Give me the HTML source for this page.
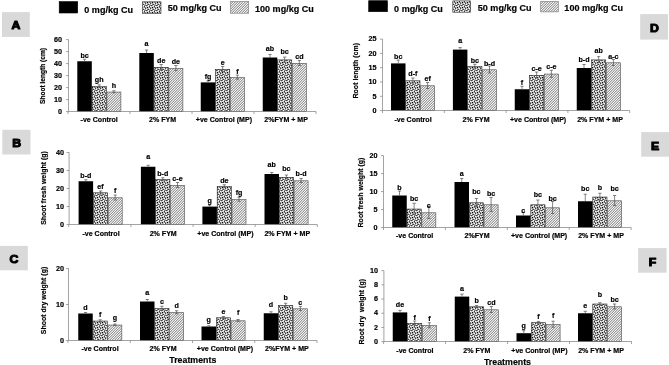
<!DOCTYPE html>
<html lang="en"><head><meta charset="utf-8"><title>Figure</title>
<style>html,body{margin:0;padding:0;background:#fff}svg{display:block}text{font-family:"Liberation Sans", Arial, sans-serif;font-weight:bold;fill:#000;stroke:#000;stroke-width:0.18px}</style></head><body>
<svg width="669" height="365" viewBox="0 0 669 365">
<defs>
<pattern id="dots" width="5" height="5" x="0" y="0" patternUnits="userSpaceOnUse"><rect width="5" height="5" fill="#fff"/><path fill="#000" d="M0,0h0.625v0.625h-0.625zM1.25,0h1.25v0.625h-1.25zM4.375,0h0.625v0.625h-0.625zM1.25,0.625h1.25v0.625h-1.25zM3.75,1.25h1.25v0.625h-1.25zM1.875,1.875h1.25v0.625h-1.25zM3.75,1.875h1.25v0.625h-1.25zM0,2.5h1.25v0.625h-1.25zM1.875,2.5h1.25v0.625h-1.25zM0,3.125h1.25v0.625h-1.25zM2.5,3.75h1.25v0.625h-1.25zM0,4.375h0.625v0.625h-0.625zM2.5,4.375h1.25v0.625h-1.25zM4.375,4.375h0.625v0.625h-0.625z"/></pattern>
<pattern id="hatch" width="5" height="5" patternUnits="userSpaceOnUse"><path fill="#fdfdfd" d="M0,0h1v1h-1zM4,1h1v1h-1zM3,2h1v1h-1zM2,3h1v1h-1zM1,4h1v1h-1z"/><path fill="#9a9a9a" d="M1,0h1v1h-1zM0,1h1v1h-1zM4,2h1v1h-1zM3,3h1v1h-1zM2,4h1v1h-1z"/><path fill="#d7d7d7" d="M2,0h1v1h-1zM1,1h1v1h-1zM0,2h1v1h-1zM4,3h1v1h-1zM3,4h1v1h-1z"/><path fill="#d7d7d7" d="M3,0h1v1h-1zM2,1h1v1h-1zM1,2h1v1h-1zM0,3h1v1h-1zM4,4h1v1h-1z"/><path fill="#9a9a9a" d="M4,0h1v1h-1zM3,1h1v1h-1zM2,2h1v1h-1zM1,3h1v1h-1zM0,4h1v1h-1z"/></pattern>
<pattern id="ldots" width="5" height="5" x="0" y="0" patternUnits="userSpaceOnUse"><rect width="5" height="5" fill="#fff"/><path fill="#000" d="M0,0h0.625v0.625h-0.625zM1.25,0h1.25v0.625h-1.25zM4.375,0h0.625v0.625h-0.625zM1.25,0.625h1.25v0.625h-1.25zM3.75,1.25h1.25v0.625h-1.25zM1.875,1.875h1.25v0.625h-1.25zM3.75,1.875h1.25v0.625h-1.25zM0,2.5h1.25v0.625h-1.25zM1.875,2.5h1.25v0.625h-1.25zM0,3.125h1.25v0.625h-1.25zM2.5,3.75h1.25v0.625h-1.25zM0,4.375h0.625v0.625h-0.625zM2.5,4.375h1.25v0.625h-1.25zM4.375,4.375h0.625v0.625h-0.625z"/></pattern>
<pattern id="lhatch" width="5" height="5" patternUnits="userSpaceOnUse"><path fill="#fdfdfd" d="M0,0h1v1h-1zM4,1h1v1h-1zM3,2h1v1h-1zM2,3h1v1h-1zM1,4h1v1h-1z"/><path fill="#9a9a9a" d="M1,0h1v1h-1zM0,1h1v1h-1zM4,2h1v1h-1zM3,3h1v1h-1zM2,4h1v1h-1z"/><path fill="#d7d7d7" d="M2,0h1v1h-1zM1,1h1v1h-1zM0,2h1v1h-1zM4,3h1v1h-1zM3,4h1v1h-1z"/><path fill="#d7d7d7" d="M3,0h1v1h-1zM2,1h1v1h-1zM1,2h1v1h-1zM0,3h1v1h-1zM4,4h1v1h-1z"/><path fill="#9a9a9a" d="M4,0h1v1h-1zM3,1h1v1h-1zM2,2h1v1h-1zM1,3h1v1h-1zM0,4h1v1h-1z"/></pattern>
<filter id="soft" x="0" y="0" width="669" height="365" filterUnits="userSpaceOnUse"><feGaussianBlur stdDeviation="0.27"/></filter>
</defs>
<rect width="669" height="365" fill="#fff"/>
<rect x="142.6" y="1.8" width="18.4" height="11.55" fill="url(#ldots)" stroke="#333" stroke-width="0.6"/>
<rect x="230.6" y="1.4" width="18.1" height="11.8" fill="url(#lhatch)" stroke="#777" stroke-width="0.6"/>
<rect x="452.8" y="0.9" width="17.9" height="11.3" fill="url(#ldots)" stroke="#333" stroke-width="0.6"/>
<rect x="540.7" y="1.3" width="17.6" height="10.6" fill="url(#lhatch)" stroke="#777" stroke-width="0.6"/>
<rect x="92.1" y="86.6" width="14.2" height="25" fill="url(#dots)" stroke="#222" stroke-width="0.6"/>
<rect x="106.9" y="92.05" width="14" height="19.55" fill="url(#hatch)" stroke="#4a4a4a" stroke-width="0.6"/>
<rect x="154.1" y="67.3" width="14.2" height="44.3" fill="url(#dots)" stroke="#222" stroke-width="0.6"/>
<rect x="168.9" y="68.3" width="14" height="43.3" fill="url(#hatch)" stroke="#4a4a4a" stroke-width="0.6"/>
<rect x="215.55" y="69.3" width="14.2" height="42.3" fill="url(#dots)" stroke="#222" stroke-width="0.6"/>
<rect x="230.35" y="77.5" width="14" height="34.1" fill="url(#hatch)" stroke="#4a4a4a" stroke-width="0.6"/>
<rect x="277.55" y="59.9" width="14.2" height="51.7" fill="url(#dots)" stroke="#222" stroke-width="0.6"/>
<rect x="292.35" y="63.3" width="14" height="48.3" fill="url(#hatch)" stroke="#4a4a4a" stroke-width="0.6"/>
<rect x="93.4" y="192.8" width="14.2" height="31.7" fill="url(#dots)" stroke="#222" stroke-width="0.6"/>
<rect x="108.2" y="197.8" width="14" height="26.7" fill="url(#hatch)" stroke="#4a4a4a" stroke-width="0.6"/>
<rect x="155.7" y="179.55" width="14.2" height="44.95" fill="url(#dots)" stroke="#222" stroke-width="0.6"/>
<rect x="170.5" y="185.3" width="14" height="39.2" fill="url(#hatch)" stroke="#4a4a4a" stroke-width="0.6"/>
<rect x="217.2" y="186.55" width="14.2" height="37.95" fill="url(#dots)" stroke="#222" stroke-width="0.6"/>
<rect x="232" y="199.55" width="14" height="24.95" fill="url(#hatch)" stroke="#4a4a4a" stroke-width="0.6"/>
<rect x="279.3" y="177.3" width="14.2" height="47.2" fill="url(#dots)" stroke="#222" stroke-width="0.6"/>
<rect x="294.1" y="180.8" width="14" height="43.7" fill="url(#hatch)" stroke="#4a4a4a" stroke-width="0.6"/>
<rect x="93.05" y="321.05" width="14.2" height="19.45" fill="url(#dots)" stroke="#222" stroke-width="0.6"/>
<rect x="107.85" y="325.05" width="14" height="15.45" fill="url(#hatch)" stroke="#4a4a4a" stroke-width="0.6"/>
<rect x="154.8" y="308.55" width="14.2" height="31.95" fill="url(#dots)" stroke="#222" stroke-width="0.6"/>
<rect x="169.6" y="312.55" width="14" height="27.95" fill="url(#hatch)" stroke="#4a4a4a" stroke-width="0.6"/>
<rect x="216.3" y="317.8" width="14.2" height="22.7" fill="url(#dots)" stroke="#222" stroke-width="0.6"/>
<rect x="231.1" y="320.8" width="14" height="19.7" fill="url(#hatch)" stroke="#4a4a4a" stroke-width="0.6"/>
<rect x="278.55" y="305.55" width="14.2" height="34.95" fill="url(#dots)" stroke="#222" stroke-width="0.6"/>
<rect x="293.35" y="308.8" width="14" height="31.7" fill="url(#hatch)" stroke="#4a4a4a" stroke-width="0.6"/>
<rect x="405.8" y="80.8" width="14.2" height="29.8" fill="url(#dots)" stroke="#222" stroke-width="0.6"/>
<rect x="420.6" y="85.8" width="14" height="24.8" fill="url(#hatch)" stroke="#4a4a4a" stroke-width="0.6"/>
<rect x="467.7" y="66.55" width="14.2" height="44.05" fill="url(#dots)" stroke="#222" stroke-width="0.6"/>
<rect x="482.5" y="69.8" width="14" height="40.8" fill="url(#hatch)" stroke="#4a4a4a" stroke-width="0.6"/>
<rect x="529.55" y="75.3" width="14.2" height="35.3" fill="url(#dots)" stroke="#222" stroke-width="0.6"/>
<rect x="544.35" y="74.05" width="14" height="36.55" fill="url(#hatch)" stroke="#4a4a4a" stroke-width="0.6"/>
<rect x="591.55" y="59.9" width="14.2" height="50.7" fill="url(#dots)" stroke="#222" stroke-width="0.6"/>
<rect x="606.35" y="62.8" width="14" height="47.8" fill="url(#hatch)" stroke="#4a4a4a" stroke-width="0.6"/>
<rect x="407.05" y="209.05" width="14.2" height="18.55" fill="url(#dots)" stroke="#222" stroke-width="0.6"/>
<rect x="421.85" y="212.8" width="14" height="14.8" fill="url(#hatch)" stroke="#4a4a4a" stroke-width="0.6"/>
<rect x="469.3" y="202.8" width="14.2" height="24.8" fill="url(#dots)" stroke="#222" stroke-width="0.6"/>
<rect x="484.1" y="204.8" width="14" height="22.8" fill="url(#hatch)" stroke="#4a4a4a" stroke-width="0.6"/>
<rect x="530.8" y="204.8" width="14.2" height="22.8" fill="url(#dots)" stroke="#222" stroke-width="0.6"/>
<rect x="545.6" y="207.8" width="14" height="19.8" fill="url(#hatch)" stroke="#4a4a4a" stroke-width="0.6"/>
<rect x="592.8" y="197.05" width="14.2" height="30.55" fill="url(#dots)" stroke="#222" stroke-width="0.6"/>
<rect x="607.6" y="200.8" width="14" height="26.8" fill="url(#hatch)" stroke="#4a4a4a" stroke-width="0.6"/>
<rect x="407.55" y="323.3" width="14.2" height="18.4" fill="url(#dots)" stroke="#222" stroke-width="0.6"/>
<rect x="422.35" y="325.55" width="14" height="16.15" fill="url(#hatch)" stroke="#4a4a4a" stroke-width="0.6"/>
<rect x="469.55" y="306.8" width="14.2" height="34.9" fill="url(#dots)" stroke="#222" stroke-width="0.6"/>
<rect x="484.35" y="309.8" width="14" height="31.9" fill="url(#hatch)" stroke="#4a4a4a" stroke-width="0.6"/>
<rect x="531.3" y="322.7" width="14.2" height="19" fill="url(#dots)" stroke="#222" stroke-width="0.6"/>
<rect x="546.1" y="324.5" width="14" height="17.2" fill="url(#hatch)" stroke="#4a4a4a" stroke-width="0.6"/>
<rect x="592.8" y="304" width="14.2" height="37.7" fill="url(#dots)" stroke="#222" stroke-width="0.6"/>
<rect x="607.6" y="306.8" width="14" height="34.9" fill="url(#hatch)" stroke="#4a4a4a" stroke-width="0.6"/>
<g filter="url(#soft)">
<rect x="59.2" y="1.6" width="18.5" height="11.4" fill="#000" stroke="#000" stroke-width="0.6"/>
<text transform="translate(84.3,12.7) scale(1.07,1)" font-size="8.45">0 mg/kg Cu</text>
<text transform="translate(167.8,11.3) scale(1.07,1)" font-size="8.45">50 mg/kg Cu</text>
<text transform="translate(255,12.2) scale(1.07,1)" font-size="8.45">100 mg/kg Cu</text>
<rect x="368.7" y="0.7" width="18.8" height="11" fill="#000" stroke="#000" stroke-width="0.6"/>
<text transform="translate(394.1,11.5) scale(1.07,1)" font-size="8.45">0 mg/kg Cu</text>
<text transform="translate(477.8,10.5) scale(1.07,1)" font-size="8.45">50 mg/kg Cu</text>
<text transform="translate(564.35,11.4) scale(1.07,1)" font-size="8.45">100 mg/kg Cu</text>
<rect x="2" y="12.1" width="27.8" height="24.8" fill="#d9d9d9"/>
<text transform="translate(16,29.2) scale(1.06,1)" font-size="11.6" text-anchor="middle" style="stroke-width:1.05px" stroke-linejoin="round">A</text>
<rect x="2.3" y="129.8" width="28.2" height="24.7" fill="#d9d9d9"/>
<text transform="translate(16.7,147) scale(1.06,1)" font-size="11.6" text-anchor="middle" style="stroke-width:1.05px" stroke-linejoin="round">B</text>
<rect x="0" y="245.9" width="27.8" height="24.4" fill="#d9d9d9"/>
<text transform="translate(14,262.8) scale(1.06,1)" font-size="11.6" text-anchor="middle" style="stroke-width:1.05px" stroke-linejoin="round">C</text>
<rect x="640.2" y="14.1" width="27.8" height="25.5" fill="#d9d9d9"/>
<text transform="translate(654.5,31.75) scale(1.06,1)" font-size="11.6" text-anchor="middle" style="stroke-width:1.05px" stroke-linejoin="round">D</text>
<rect x="641.2" y="132.1" width="27.8" height="24.6" fill="#d9d9d9"/>
<text transform="translate(655.05,149.6) scale(1.06,1)" font-size="11.6" text-anchor="middle" style="stroke-width:1.05px" stroke-linejoin="round">E</text>
<rect x="638.1" y="248.1" width="28.5" height="24.6" fill="#d9d9d9"/>
<text transform="translate(652.55,265.5) scale(1.06,1)" font-size="11.6" text-anchor="middle" style="stroke-width:1.05px" stroke-linejoin="round">F</text>
<rect x="77.3" y="61.25" width="14.5" height="50.35" fill="#000"/>
<path d="M84.55,59.25V61.25M82.95,59.25H86.15" stroke="#505050" stroke-width="0.7" fill="none"/>
<text transform="translate(84.55,57.75) scale(1.08,1)" font-size="6.6" text-anchor="middle">bc</text>
<path d="M99.2,84.8V87.8M97.6,84.8H100.8M97.6,87.8H100.8" stroke="#505050" stroke-width="0.7" fill="none"/>
<text transform="translate(99.2,82.1) scale(1.08,1)" font-size="6.6" text-anchor="middle">gh</text>
<path d="M113.9,90.75V92.75M112.3,90.75H115.5M112.3,92.75H115.5" stroke="#505050" stroke-width="0.7" fill="none"/>
<text transform="translate(113.9,87.65) scale(1.08,1)" font-size="6.6" text-anchor="middle">h</text>
<rect x="139.3" y="53" width="14.5" height="58.6" fill="#000"/>
<path d="M146.55,50V53M144.95,50H148.15" stroke="#505050" stroke-width="0.7" fill="none"/>
<text transform="translate(146.55,45.5) scale(1.08,1)" font-size="6.6" text-anchor="middle">a</text>
<path d="M161.2,64.5V69.5M159.6,64.5H162.8M159.6,69.5H162.8" stroke="#505050" stroke-width="0.7" fill="none"/>
<text transform="translate(161.2,63) scale(1.08,1)" font-size="6.6" text-anchor="middle">de</text>
<path d="M175.9,65.5V70.5M174.3,65.5H177.5M174.3,70.5H177.5" stroke="#505050" stroke-width="0.7" fill="none"/>
<text transform="translate(175.9,64) scale(1.08,1)" font-size="6.6" text-anchor="middle">de</text>
<rect x="200.75" y="82.4" width="14.5" height="29.2" fill="#000"/>
<path d="M208,80.9V82.4M206.4,80.9H209.6" stroke="#505050" stroke-width="0.7" fill="none"/>
<text transform="translate(208,79) scale(1.08,1)" font-size="6.6" text-anchor="middle">fg</text>
<path d="M222.65,66.5V71.5M221.05,66.5H224.25M221.05,71.5H224.25" stroke="#505050" stroke-width="0.7" fill="none"/>
<text transform="translate(222.65,65.4) scale(1.08,1)" font-size="6.6" text-anchor="middle">e</text>
<path d="M237.35,75.2V79.2M235.75,75.2H238.95M235.75,79.2H238.95" stroke="#505050" stroke-width="0.7" fill="none"/>
<text transform="translate(237.35,74) scale(1.08,1)" font-size="6.6" text-anchor="middle">f</text>
<rect x="262.75" y="57.5" width="14.5" height="54.1" fill="#000"/>
<path d="M270,54.5V57.5M268.4,54.5H271.6" stroke="#505050" stroke-width="0.7" fill="none"/>
<text transform="translate(270,50.7) scale(1.08,1)" font-size="6.6" text-anchor="middle">ab</text>
<path d="M284.65,57.1V62.1M283.05,57.1H286.25M283.05,62.1H286.25" stroke="#505050" stroke-width="0.7" fill="none"/>
<text transform="translate(284.65,53.6) scale(1.08,1)" font-size="6.6" text-anchor="middle">bc</text>
<path d="M299.35,60.5V65.5M297.75,60.5H300.95M297.75,65.5H300.95" stroke="#505050" stroke-width="0.7" fill="none"/>
<text transform="translate(299.35,58.5) scale(1.08,1)" font-size="6.6" text-anchor="middle">cd</text>
<path d="M68.5,39.6V111.5H316" stroke="#7c7c7c" stroke-width="0.7" fill="none"/>
<path d="M66,111.6H68.5" stroke="#7c7c7c" stroke-width="0.7"/>
<text transform="translate(62,113.811) scale(1.08,1)" font-size="6.7" text-anchor="end">0</text>
<path d="M66,99.6H68.5" stroke="#7c7c7c" stroke-width="0.7"/>
<text transform="translate(62,101.811) scale(1.08,1)" font-size="6.7" text-anchor="end">10</text>
<path d="M66,87.6H68.5" stroke="#7c7c7c" stroke-width="0.7"/>
<text transform="translate(62,89.811) scale(1.08,1)" font-size="6.7" text-anchor="end">20</text>
<path d="M66,75.6H68.5" stroke="#7c7c7c" stroke-width="0.7"/>
<text transform="translate(62,77.811) scale(1.08,1)" font-size="6.7" text-anchor="end">30</text>
<path d="M66,63.6H68.5" stroke="#7c7c7c" stroke-width="0.7"/>
<text transform="translate(62,65.811) scale(1.08,1)" font-size="6.7" text-anchor="end">40</text>
<path d="M66,51.6H68.5" stroke="#7c7c7c" stroke-width="0.7"/>
<text transform="translate(62,53.811) scale(1.08,1)" font-size="6.7" text-anchor="end">50</text>
<path d="M66,39.6H68.5" stroke="#7c7c7c" stroke-width="0.7"/>
<text transform="translate(62,41.811) scale(1.08,1)" font-size="6.7" text-anchor="end">60</text>
<path d="M68,111.5V114" stroke="#7c7c7c" stroke-width="0.7"/>
<path d="M130,111.5V114" stroke="#7c7c7c" stroke-width="0.7"/>
<path d="M192,111.5V114" stroke="#7c7c7c" stroke-width="0.7"/>
<path d="M254,111.5V114" stroke="#7c7c7c" stroke-width="0.7"/>
<path d="M316,111.5V114" stroke="#7c7c7c" stroke-width="0.7"/>
<text transform="translate(99.2,122.2) scale(1.08,1)" font-size="6.55" text-anchor="middle">-ve Control</text>
<text transform="translate(162.5,122.2) scale(1.08,1)" font-size="6.55" text-anchor="middle">2% FYM</text>
<text transform="translate(223.9,122.2) scale(1.08,1)" font-size="6.55" text-anchor="middle">+ve Control (MP)</text>
<text transform="translate(286.1,122.2) scale(1.08,1)" font-size="6.55" text-anchor="middle">2%FYM + MP</text>
<text transform="translate(44.576,76) scale(1.1,1) rotate(-90)" font-size="6.6" text-anchor="middle" xml:space="preserve" style="white-space:pre">Shoot length (cm)</text>
<rect x="78.6" y="181.25" width="14.5" height="43.25" fill="#000"/>
<path d="M85.85,179.75V181.25M84.25,179.75H87.45" stroke="#505050" stroke-width="0.7" fill="none"/>
<text transform="translate(85.85,177.65) scale(1.08,1)" font-size="6.6" text-anchor="middle">b-d</text>
<path d="M100.5,191V194M98.9,191H102.1M98.9,194H102.1" stroke="#505050" stroke-width="0.7" fill="none"/>
<text transform="translate(100.5,188.5) scale(1.08,1)" font-size="6.6" text-anchor="middle">ef</text>
<path d="M115.2,195V200M113.6,195H116.8M113.6,200H116.8" stroke="#505050" stroke-width="0.7" fill="none"/>
<text transform="translate(115.2,192.5) scale(1.08,1)" font-size="6.6" text-anchor="middle">f</text>
<rect x="140.9" y="166.75" width="14.5" height="57.75" fill="#000"/>
<path d="M148.15,165.25V166.75M146.55,165.25H149.75" stroke="#505050" stroke-width="0.7" fill="none"/>
<text transform="translate(148.15,159.05) scale(1.08,1)" font-size="6.6" text-anchor="middle">a</text>
<path d="M162.8,177.75V180.75M161.2,177.75H164.4M161.2,180.75H164.4" stroke="#505050" stroke-width="0.7" fill="none"/>
<text transform="translate(162.8,176.25) scale(1.08,1)" font-size="6.6" text-anchor="middle">b-d</text>
<path d="M177.5,182.5V187.5M175.9,182.5H179.1M175.9,187.5H179.1" stroke="#505050" stroke-width="0.7" fill="none"/>
<text transform="translate(177.5,181) scale(1.08,1)" font-size="6.6" text-anchor="middle">c-e</text>
<rect x="202.4" y="206.6" width="14.5" height="17.9" fill="#000"/>
<path d="M209.65,205.1V206.6M208.05,205.1H211.25" stroke="#505050" stroke-width="0.7" fill="none"/>
<text transform="translate(209.65,203) scale(1.08,1)" font-size="6.6" text-anchor="middle">g</text>
<path d="M224.3,184.75V187.75M222.7,184.75H225.9M222.7,187.75H225.9" stroke="#505050" stroke-width="0.7" fill="none"/>
<text transform="translate(224.3,183.25) scale(1.08,1)" font-size="6.6" text-anchor="middle">de</text>
<path d="M239,197.25V201.25M237.4,197.25H240.6M237.4,201.25H240.6" stroke="#505050" stroke-width="0.7" fill="none"/>
<text transform="translate(239,194.75) scale(1.08,1)" font-size="6.6" text-anchor="middle">fg</text>
<rect x="264.5" y="174" width="14.5" height="50.5" fill="#000"/>
<path d="M271.75,172.5V174M270.15,172.5H273.35" stroke="#505050" stroke-width="0.7" fill="none"/>
<text transform="translate(271.75,167) scale(1.08,1)" font-size="6.6" text-anchor="middle">ab</text>
<path d="M286.4,175V179M284.8,175H288M284.8,179H288" stroke="#505050" stroke-width="0.7" fill="none"/>
<text transform="translate(286.4,170.8) scale(1.08,1)" font-size="6.6" text-anchor="middle">bc</text>
<path d="M301.1,178.5V182.5M299.5,178.5H302.7M299.5,182.5H302.7" stroke="#505050" stroke-width="0.7" fill="none"/>
<text transform="translate(301.1,176.4) scale(1.08,1)" font-size="6.6" text-anchor="middle">b-d</text>
<path d="M69.1,152.5V224.5H317.3" stroke="#7c7c7c" stroke-width="0.7" fill="none"/>
<path d="M66.6,224.5H69.1" stroke="#7c7c7c" stroke-width="0.7"/>
<text transform="translate(64,226.711) scale(1.08,1)" font-size="6.7" text-anchor="end">0</text>
<path d="M66.6,206.5H69.1" stroke="#7c7c7c" stroke-width="0.7"/>
<text transform="translate(64,208.711) scale(1.08,1)" font-size="6.7" text-anchor="end">10</text>
<path d="M66.6,188.5H69.1" stroke="#7c7c7c" stroke-width="0.7"/>
<text transform="translate(64,190.711) scale(1.08,1)" font-size="6.7" text-anchor="end">20</text>
<path d="M66.6,170.5H69.1" stroke="#7c7c7c" stroke-width="0.7"/>
<text transform="translate(64,172.711) scale(1.08,1)" font-size="6.7" text-anchor="end">30</text>
<path d="M66.6,152.5H69.1" stroke="#7c7c7c" stroke-width="0.7"/>
<text transform="translate(64,154.711) scale(1.08,1)" font-size="6.7" text-anchor="end">40</text>
<path d="M68.8,224.5V227" stroke="#7c7c7c" stroke-width="0.7"/>
<path d="M130.925,224.5V227" stroke="#7c7c7c" stroke-width="0.7"/>
<path d="M193.05,224.5V227" stroke="#7c7c7c" stroke-width="0.7"/>
<path d="M255.175,224.5V227" stroke="#7c7c7c" stroke-width="0.7"/>
<path d="M317.3,224.5V227" stroke="#7c7c7c" stroke-width="0.7"/>
<text transform="translate(101,236) scale(1.08,1)" font-size="6.55" text-anchor="middle">-ve Control</text>
<text transform="translate(163.2,236) scale(1.08,1)" font-size="6.55" text-anchor="middle">2% FYM</text>
<text transform="translate(225.4,236) scale(1.08,1)" font-size="6.55" text-anchor="middle">+ve Control (MP)</text>
<text transform="translate(287.25,236) scale(1.08,1)" font-size="6.55" text-anchor="middle">2% FYM + MP</text>
<text transform="translate(45.52,188) scale(1.1,1) rotate(-90)" font-size="7" text-anchor="middle" xml:space="preserve" style="white-space:pre">Shoot fresh weight (g)</text>
<rect x="78.25" y="313.5" width="14.5" height="27" fill="#000"/>
<path d="M85.5,312.5V313.5M83.9,312.5H87.1" stroke="#505050" stroke-width="0.7" fill="none"/>
<text transform="translate(85.5,309.7) scale(1.08,1)" font-size="6.6" text-anchor="middle">d</text>
<path d="M100.15,319.75V321.75M98.55,319.75H101.75M98.55,321.75H101.75" stroke="#505050" stroke-width="0.7" fill="none"/>
<text transform="translate(100.15,316.75) scale(1.08,1)" font-size="6.6" text-anchor="middle">f</text>
<path d="M114.85,324.05V325.45M113.25,324.05H116.45M113.25,325.45H116.45" stroke="#505050" stroke-width="0.7" fill="none"/>
<text transform="translate(114.85,320.25) scale(1.08,1)" font-size="6.6" text-anchor="middle">g</text>
<rect x="140" y="301.5" width="14.5" height="39" fill="#000"/>
<path d="M147.25,299.5V301.5M145.65,299.5H148.85" stroke="#505050" stroke-width="0.7" fill="none"/>
<text transform="translate(147.25,294.6) scale(1.08,1)" font-size="6.6" text-anchor="middle">a</text>
<path d="M161.9,306.25V310.25M160.3,306.25H163.5M160.3,310.25H163.5" stroke="#505050" stroke-width="0.7" fill="none"/>
<text transform="translate(161.9,303.85) scale(1.08,1)" font-size="6.6" text-anchor="middle">c</text>
<path d="M176.6,310.75V313.75M175,310.75H178.2M175,313.75H178.2" stroke="#505050" stroke-width="0.7" fill="none"/>
<text transform="translate(176.6,308.45) scale(1.08,1)" font-size="6.6" text-anchor="middle">d</text>
<rect x="201.5" y="326.5" width="14.5" height="14" fill="#000"/>
<path d="M208.75,325.8V326.5M207.15,325.8H210.35" stroke="#505050" stroke-width="0.7" fill="none"/>
<text transform="translate(208.75,322.1) scale(1.08,1)" font-size="6.6" text-anchor="middle">g</text>
<path d="M223.4,316.5V318.5M221.8,316.5H225M221.8,318.5H225" stroke="#505050" stroke-width="0.7" fill="none"/>
<text transform="translate(223.4,313.9) scale(1.08,1)" font-size="6.6" text-anchor="middle">e</text>
<path d="M238.1,319.5V321.5M236.5,319.5H239.7M236.5,321.5H239.7" stroke="#505050" stroke-width="0.7" fill="none"/>
<text transform="translate(238.1,315.3) scale(1.08,1)" font-size="6.6" text-anchor="middle">f</text>
<rect x="263.75" y="313.25" width="14.5" height="27.25" fill="#000"/>
<path d="M271,311.75V313.25M269.4,311.75H272.6" stroke="#505050" stroke-width="0.7" fill="none"/>
<text transform="translate(271,307.35) scale(1.08,1)" font-size="6.6" text-anchor="middle">d</text>
<path d="M285.65,303.25V307.25M284.05,303.25H287.25M284.05,307.25H287.25" stroke="#505050" stroke-width="0.7" fill="none"/>
<text transform="translate(285.65,299.65) scale(1.08,1)" font-size="6.6" text-anchor="middle">b</text>
<path d="M300.35,306.5V310.5M298.75,306.5H301.95M298.75,310.5H301.95" stroke="#505050" stroke-width="0.7" fill="none"/>
<text transform="translate(300.35,304.5) scale(1.08,1)" font-size="6.6" text-anchor="middle">c</text>
<path d="M68.5,268.5V340.5H317" stroke="#7c7c7c" stroke-width="0.7" fill="none"/>
<path d="M66,340.5H68.5" stroke="#7c7c7c" stroke-width="0.7"/>
<text transform="translate(64,342.711) scale(1.08,1)" font-size="6.7" text-anchor="end">0</text>
<path d="M66,304.5H68.5" stroke="#7c7c7c" stroke-width="0.7"/>
<text transform="translate(64,306.711) scale(1.08,1)" font-size="6.7" text-anchor="end">10</text>
<path d="M66,268.5H68.5" stroke="#7c7c7c" stroke-width="0.7"/>
<text transform="translate(64,270.711) scale(1.08,1)" font-size="6.7" text-anchor="end">20</text>
<path d="M68,340.5V343" stroke="#7c7c7c" stroke-width="0.7"/>
<path d="M130.25,340.5V343" stroke="#7c7c7c" stroke-width="0.7"/>
<path d="M192.5,340.5V343" stroke="#7c7c7c" stroke-width="0.7"/>
<path d="M254.75,340.5V343" stroke="#7c7c7c" stroke-width="0.7"/>
<path d="M317,340.5V343" stroke="#7c7c7c" stroke-width="0.7"/>
<text transform="translate(100,351) scale(1.08,1)" font-size="6.55" text-anchor="middle">-ve Control</text>
<text transform="translate(163,351) scale(1.08,1)" font-size="6.55" text-anchor="middle">2% FYM</text>
<text transform="translate(224.9,351) scale(1.08,1)" font-size="6.55" text-anchor="middle">+ve Control (MP)</text>
<text transform="translate(286.9,351) scale(1.08,1)" font-size="6.55" text-anchor="middle">2%FYM + MP</text>
<text transform="translate(45.52,300.5) scale(1.1,1) rotate(-90)" font-size="7" text-anchor="middle" xml:space="preserve" style="white-space:pre">Shoot dry weight (g)</text>
<rect x="391" y="63.4" width="14.5" height="47.2" fill="#000"/>
<path d="M398.25,60.1V63.4M396.65,60.1H399.85" stroke="#505050" stroke-width="0.7" fill="none"/>
<text transform="translate(398.25,59.1) scale(1.08,1)" font-size="6.6" text-anchor="middle">bc</text>
<path d="M412.9,78V83M411.3,78H414.5M411.3,83H414.5" stroke="#505050" stroke-width="0.7" fill="none"/>
<text transform="translate(412.9,76.3) scale(1.08,1)" font-size="6.6" text-anchor="middle">d-f</text>
<path d="M427.6,82.5V88.5M426,82.5H429.2M426,88.5H429.2" stroke="#505050" stroke-width="0.7" fill="none"/>
<text transform="translate(427.6,81) scale(1.08,1)" font-size="6.6" text-anchor="middle">ef</text>
<rect x="452.9" y="49.6" width="14.5" height="61" fill="#000"/>
<path d="M460.15,47.6V49.6M458.55,47.6H461.75" stroke="#505050" stroke-width="0.7" fill="none"/>
<text transform="translate(460.15,42.5) scale(1.08,1)" font-size="6.6" text-anchor="middle">a</text>
<path d="M474.8,64.25V68.25M473.2,64.25H476.4M473.2,68.25H476.4" stroke="#505050" stroke-width="0.7" fill="none"/>
<text transform="translate(474.8,62.75) scale(1.08,1)" font-size="6.6" text-anchor="middle">bc</text>
<path d="M489.5,66V73M487.9,66H491.1M487.9,73H491.1" stroke="#505050" stroke-width="0.7" fill="none"/>
<text transform="translate(489.5,65.5) scale(1.08,1)" font-size="6.6" text-anchor="middle">b-d</text>
<rect x="514.75" y="89.25" width="14.5" height="21.35" fill="#000"/>
<path d="M522,86.25V89.25M520.4,86.25H523.6" stroke="#505050" stroke-width="0.7" fill="none"/>
<text transform="translate(522,84.75) scale(1.08,1)" font-size="6.6" text-anchor="middle">f</text>
<path d="M536.65,72V78M535.05,72H538.25M535.05,78H538.25" stroke="#505050" stroke-width="0.7" fill="none"/>
<text transform="translate(536.65,70.5) scale(1.08,1)" font-size="6.6" text-anchor="middle">c-e</text>
<path d="M551.35,70.25V77.25M549.75,70.25H552.95M549.75,77.25H552.95" stroke="#505050" stroke-width="0.7" fill="none"/>
<text transform="translate(551.35,68.75) scale(1.08,1)" font-size="6.6" text-anchor="middle">c-e</text>
<rect x="576.75" y="68" width="14.5" height="42.6" fill="#000"/>
<path d="M584,64.5V68M582.4,64.5H585.6" stroke="#505050" stroke-width="0.7" fill="none"/>
<text transform="translate(584,62) scale(1.08,1)" font-size="6.6" text-anchor="middle">b-d</text>
<path d="M598.65,56.6V62.6M597.05,56.6H600.25M597.05,62.6H600.25" stroke="#505050" stroke-width="0.7" fill="none"/>
<text transform="translate(598.65,53.1) scale(1.08,1)" font-size="6.6" text-anchor="middle">ab</text>
<path d="M613.35,59.5V65.5M611.75,59.5H614.95M611.75,65.5H614.95" stroke="#505050" stroke-width="0.7" fill="none"/>
<text transform="translate(613.35,58.5) scale(1.08,1)" font-size="6.6" text-anchor="middle">a-c</text>
<path d="M382.5,39.1V110.5H629.7" stroke="#7c7c7c" stroke-width="0.7" fill="none"/>
<path d="M380,110.6H382.5" stroke="#7c7c7c" stroke-width="0.7"/>
<text transform="translate(376.5,112.811) scale(1.08,1)" font-size="6.7" text-anchor="end">0</text>
<path d="M380,96.3H382.5" stroke="#7c7c7c" stroke-width="0.7"/>
<text transform="translate(376.5,98.511) scale(1.08,1)" font-size="6.7" text-anchor="end">5</text>
<path d="M380,82H382.5" stroke="#7c7c7c" stroke-width="0.7"/>
<text transform="translate(376.5,84.211) scale(1.08,1)" font-size="6.7" text-anchor="end">10</text>
<path d="M380,67.7H382.5" stroke="#7c7c7c" stroke-width="0.7"/>
<text transform="translate(376.5,69.911) scale(1.08,1)" font-size="6.7" text-anchor="end">15</text>
<path d="M380,53.4H382.5" stroke="#7c7c7c" stroke-width="0.7"/>
<text transform="translate(376.5,55.611) scale(1.08,1)" font-size="6.7" text-anchor="end">20</text>
<path d="M380,39.1H382.5" stroke="#7c7c7c" stroke-width="0.7"/>
<text transform="translate(376.5,41.311) scale(1.08,1)" font-size="6.7" text-anchor="end">25</text>
<path d="M382.5,110.5V113" stroke="#7c7c7c" stroke-width="0.7"/>
<path d="M444.3,110.5V113" stroke="#7c7c7c" stroke-width="0.7"/>
<path d="M506.1,110.5V113" stroke="#7c7c7c" stroke-width="0.7"/>
<path d="M567.9,110.5V113" stroke="#7c7c7c" stroke-width="0.7"/>
<path d="M629.7,110.5V113" stroke="#7c7c7c" stroke-width="0.7"/>
<text transform="translate(413,122) scale(1.08,1)" font-size="6.55" text-anchor="middle">-ve Control</text>
<text transform="translate(476.1,122) scale(1.08,1)" font-size="6.55" text-anchor="middle">2% FYM</text>
<text transform="translate(538.1,122) scale(1.08,1)" font-size="6.55" text-anchor="middle">+ve Control (MP)</text>
<text transform="translate(600,122) scale(1.08,1)" font-size="6.55" text-anchor="middle">2% FYM + MP</text>
<text transform="translate(357.72,70.7) scale(1.1,1) rotate(-90)" font-size="7" text-anchor="middle" xml:space="preserve" style="white-space:pre">Root length (cm)</text>
<rect x="392.25" y="195.5" width="14.5" height="32.1" fill="#000"/>
<path d="M399.5,191V195.5M397.9,191H401.1" stroke="#505050" stroke-width="0.7" fill="none"/>
<text transform="translate(399.5,189.5) scale(1.08,1)" font-size="6.6" text-anchor="middle">b</text>
<path d="M414.15,203.25V214.25M412.55,203.25H415.75M412.55,214.25H415.75" stroke="#505050" stroke-width="0.7" fill="none"/>
<text transform="translate(414.15,200.75) scale(1.08,1)" font-size="6.6" text-anchor="middle">bc</text>
<path d="M428.85,206.5V218.5M427.25,206.5H430.45M427.25,218.5H430.45" stroke="#505050" stroke-width="0.7" fill="none"/>
<text transform="translate(428.85,208.3) scale(1.08,1)" font-size="6.6" text-anchor="middle">c</text>
<rect x="454.5" y="182" width="14.5" height="45.6" fill="#000"/>
<path d="M461.75,178.5V182M460.15,178.5H463.35" stroke="#505050" stroke-width="0.7" fill="none"/>
<text transform="translate(461.75,175.9) scale(1.08,1)" font-size="6.6" text-anchor="middle">a</text>
<path d="M476.4,198.5V206.5M474.8,198.5H478M474.8,206.5H478" stroke="#505050" stroke-width="0.7" fill="none"/>
<text transform="translate(476.4,194.3) scale(1.08,1)" font-size="6.6" text-anchor="middle">bc</text>
<path d="M491.1,197.5V211.5M489.5,197.5H492.7M489.5,211.5H492.7" stroke="#505050" stroke-width="0.7" fill="none"/>
<text transform="translate(491.1,196) scale(1.08,1)" font-size="6.6" text-anchor="middle">bc</text>
<rect x="516" y="215.5" width="14.5" height="12.1" fill="#000"/>
<path d="M523.25,212.5V215.5M521.65,212.5H524.85" stroke="#505050" stroke-width="0.7" fill="none"/>
<text transform="translate(523.25,212.6) scale(1.08,1)" font-size="6.6" text-anchor="middle">c</text>
<path d="M537.9,200V209M536.3,200H539.5M536.3,209H539.5" stroke="#505050" stroke-width="0.7" fill="none"/>
<text transform="translate(537.9,196.8) scale(1.08,1)" font-size="6.6" text-anchor="middle">bc</text>
<path d="M552.6,201.5V213.5M551,201.5H554.2M551,213.5H554.2" stroke="#505050" stroke-width="0.7" fill="none"/>
<text transform="translate(552.6,200.7) scale(1.08,1)" font-size="6.6" text-anchor="middle">bc</text>
<rect x="578" y="201.25" width="14.5" height="26.35" fill="#000"/>
<path d="M585.25,194.25V201.25M583.65,194.25H586.85" stroke="#505050" stroke-width="0.7" fill="none"/>
<text transform="translate(585.25,191.05) scale(1.08,1)" font-size="6.6" text-anchor="middle">bc</text>
<path d="M599.9,193.25V200.25M598.3,193.25H601.5M598.3,200.25H601.5" stroke="#505050" stroke-width="0.7" fill="none"/>
<text transform="translate(599.9,189.65) scale(1.08,1)" font-size="6.6" text-anchor="middle">b</text>
<path d="M614.6,195.5V205.5M613,195.5H616.2M613,205.5H616.2" stroke="#505050" stroke-width="0.7" fill="none"/>
<text transform="translate(614.6,191.1) scale(1.08,1)" font-size="6.6" text-anchor="middle">bc</text>
<path d="M383.5,155.6V227.5H631.1" stroke="#7c7c7c" stroke-width="0.7" fill="none"/>
<path d="M381,227.6H383.5" stroke="#7c7c7c" stroke-width="0.7"/>
<text transform="translate(377.5,229.811) scale(1.08,1)" font-size="6.7" text-anchor="end">0</text>
<path d="M381,209.6H383.5" stroke="#7c7c7c" stroke-width="0.7"/>
<text transform="translate(377.5,211.811) scale(1.08,1)" font-size="6.7" text-anchor="end">5</text>
<path d="M381,191.6H383.5" stroke="#7c7c7c" stroke-width="0.7"/>
<text transform="translate(377.5,193.811) scale(1.08,1)" font-size="6.7" text-anchor="end">10</text>
<path d="M381,173.6H383.5" stroke="#7c7c7c" stroke-width="0.7"/>
<text transform="translate(377.5,175.811) scale(1.08,1)" font-size="6.7" text-anchor="end">15</text>
<path d="M381,155.6H383.5" stroke="#7c7c7c" stroke-width="0.7"/>
<text transform="translate(377.5,157.811) scale(1.08,1)" font-size="6.7" text-anchor="end">20</text>
<path d="M383.5,227.5V230" stroke="#7c7c7c" stroke-width="0.7"/>
<path d="M445.4,227.5V230" stroke="#7c7c7c" stroke-width="0.7"/>
<path d="M507.3,227.5V230" stroke="#7c7c7c" stroke-width="0.7"/>
<path d="M569.2,227.5V230" stroke="#7c7c7c" stroke-width="0.7"/>
<path d="M631.1,227.5V230" stroke="#7c7c7c" stroke-width="0.7"/>
<text transform="translate(414.6,238.1) scale(1.08,1)" font-size="6.55" text-anchor="middle">-ve Control</text>
<text transform="translate(477,238.1) scale(1.08,1)" font-size="6.55" text-anchor="middle">2%FYM</text>
<text transform="translate(539.1,238.1) scale(1.08,1)" font-size="6.55" text-anchor="middle">+ve Control (MP)</text>
<text transform="translate(601,238.1) scale(1.08,1)" font-size="6.55" text-anchor="middle">2% FYM + MP</text>
<text transform="translate(362.92,192.5) scale(1.1,1) rotate(-90)" font-size="7" text-anchor="middle" xml:space="preserve" style="white-space:pre">Root fresh weight (g)</text>
<rect x="392.75" y="312.4" width="14.5" height="29.3" fill="#000"/>
<path d="M400,310.4V312.4M398.4,310.4H401.6" stroke="#505050" stroke-width="0.7" fill="none"/>
<text transform="translate(400,306.9) scale(1.08,1)" font-size="6.6" text-anchor="middle">de</text>
<path d="M414.65,321V325M413.05,321H416.25M413.05,325H416.25" stroke="#505050" stroke-width="0.7" fill="none"/>
<text transform="translate(414.65,319.5) scale(1.08,1)" font-size="6.6" text-anchor="middle">f</text>
<path d="M429.35,322.75V327.75M427.75,322.75H430.95M427.75,327.75H430.95" stroke="#505050" stroke-width="0.7" fill="none"/>
<text transform="translate(429.35,321.25) scale(1.08,1)" font-size="6.6" text-anchor="middle">f</text>
<rect x="454.75" y="296.6" width="14.5" height="45.1" fill="#000"/>
<path d="M462,294.1V296.6M460.4,294.1H463.6" stroke="#505050" stroke-width="0.7" fill="none"/>
<text transform="translate(462,290.7) scale(1.08,1)" font-size="6.6" text-anchor="middle">a</text>
<path d="M476.65,305.5V307.5M475.05,305.5H478.25M475.05,307.5H478.25" stroke="#505050" stroke-width="0.7" fill="none"/>
<text transform="translate(476.65,303.4) scale(1.08,1)" font-size="6.6" text-anchor="middle">b</text>
<path d="M491.35,306.5V312.5M489.75,306.5H492.95M489.75,312.5H492.95" stroke="#505050" stroke-width="0.7" fill="none"/>
<text transform="translate(491.35,305) scale(1.08,1)" font-size="6.6" text-anchor="middle">cd</text>
<rect x="516.5" y="333.2" width="14.5" height="8.5" fill="#000"/>
<path d="M523.75,330.7V333.2M522.15,330.7H525.35" stroke="#505050" stroke-width="0.7" fill="none"/>
<text transform="translate(523.75,328.2) scale(1.08,1)" font-size="6.6" text-anchor="middle">g</text>
<path d="M538.4,321.4V323.4M536.8,321.4H540M536.8,323.4H540" stroke="#505050" stroke-width="0.7" fill="none"/>
<text transform="translate(538.4,319.3) scale(1.08,1)" font-size="6.6" text-anchor="middle">f</text>
<path d="M553.1,321.2V327.2M551.5,321.2H554.7M551.5,327.2H554.7" stroke="#505050" stroke-width="0.7" fill="none"/>
<text transform="translate(553.1,317.9) scale(1.08,1)" font-size="6.6" text-anchor="middle">f</text>
<rect x="578" y="313.25" width="14.5" height="28.45" fill="#000"/>
<path d="M585.25,311.25V313.25M583.65,311.25H586.85" stroke="#505050" stroke-width="0.7" fill="none"/>
<text transform="translate(585.25,308.15) scale(1.08,1)" font-size="6.6" text-anchor="middle">e</text>
<path d="M599.9,302.7V304.7M598.3,302.7H601.5M598.3,304.7H601.5" stroke="#505050" stroke-width="0.7" fill="none"/>
<text transform="translate(599.9,297.3) scale(1.08,1)" font-size="6.6" text-anchor="middle">b</text>
<path d="M614.6,304V309M613,304H616.2M613,309H616.2" stroke="#505050" stroke-width="0.7" fill="none"/>
<text transform="translate(614.6,301.5) scale(1.08,1)" font-size="6.6" text-anchor="middle">bc</text>
<path d="M383.9,270.6V341.5H631.5" stroke="#7c7c7c" stroke-width="0.7" fill="none"/>
<path d="M381.4,341.7H383.9" stroke="#7c7c7c" stroke-width="0.7"/>
<text transform="translate(378,343.911) scale(1.08,1)" font-size="6.7" text-anchor="end">0</text>
<path d="M381.4,327.48H383.9" stroke="#7c7c7c" stroke-width="0.7"/>
<text transform="translate(378,329.691) scale(1.08,1)" font-size="6.7" text-anchor="end">2</text>
<path d="M381.4,313.26H383.9" stroke="#7c7c7c" stroke-width="0.7"/>
<text transform="translate(378,315.471) scale(1.08,1)" font-size="6.7" text-anchor="end">4</text>
<path d="M381.4,299.04H383.9" stroke="#7c7c7c" stroke-width="0.7"/>
<text transform="translate(378,301.251) scale(1.08,1)" font-size="6.7" text-anchor="end">6</text>
<path d="M381.4,284.82H383.9" stroke="#7c7c7c" stroke-width="0.7"/>
<text transform="translate(378,287.031) scale(1.08,1)" font-size="6.7" text-anchor="end">8</text>
<path d="M381.4,270.6H383.9" stroke="#7c7c7c" stroke-width="0.7"/>
<text transform="translate(378,272.811) scale(1.08,1)" font-size="6.7" text-anchor="end">10</text>
<path d="M383.6,341.5V344" stroke="#7c7c7c" stroke-width="0.7"/>
<path d="M445.575,341.5V344" stroke="#7c7c7c" stroke-width="0.7"/>
<path d="M507.55,341.5V344" stroke="#7c7c7c" stroke-width="0.7"/>
<path d="M569.525,341.5V344" stroke="#7c7c7c" stroke-width="0.7"/>
<path d="M631.5,341.5V344" stroke="#7c7c7c" stroke-width="0.7"/>
<text transform="translate(414.9,352.75) scale(1.08,1)" font-size="6.55" text-anchor="middle">-ve Control</text>
<text transform="translate(476.75,352.75) scale(1.08,1)" font-size="6.55" text-anchor="middle">2% FYM</text>
<text transform="translate(539.4,352.75) scale(1.08,1)" font-size="6.55" text-anchor="middle">+ve Control (MP)</text>
<text transform="translate(601,352.75) scale(1.08,1)" font-size="6.55" text-anchor="middle">2% FYM + MP</text>
<text transform="translate(364.02,311.8) scale(1.1,1) rotate(-90)" font-size="7" text-anchor="middle" xml:space="preserve" style="white-space:pre">Root dry  weight (g)</text>
<text transform="translate(192.8,362.8) scale(0.97,1)" font-size="9.1" text-anchor="middle">Treatments</text>
<text transform="translate(507.5,364.5) scale(0.97,1)" font-size="9.1" text-anchor="middle">Treatments</text>
</g>
</svg></body></html>
